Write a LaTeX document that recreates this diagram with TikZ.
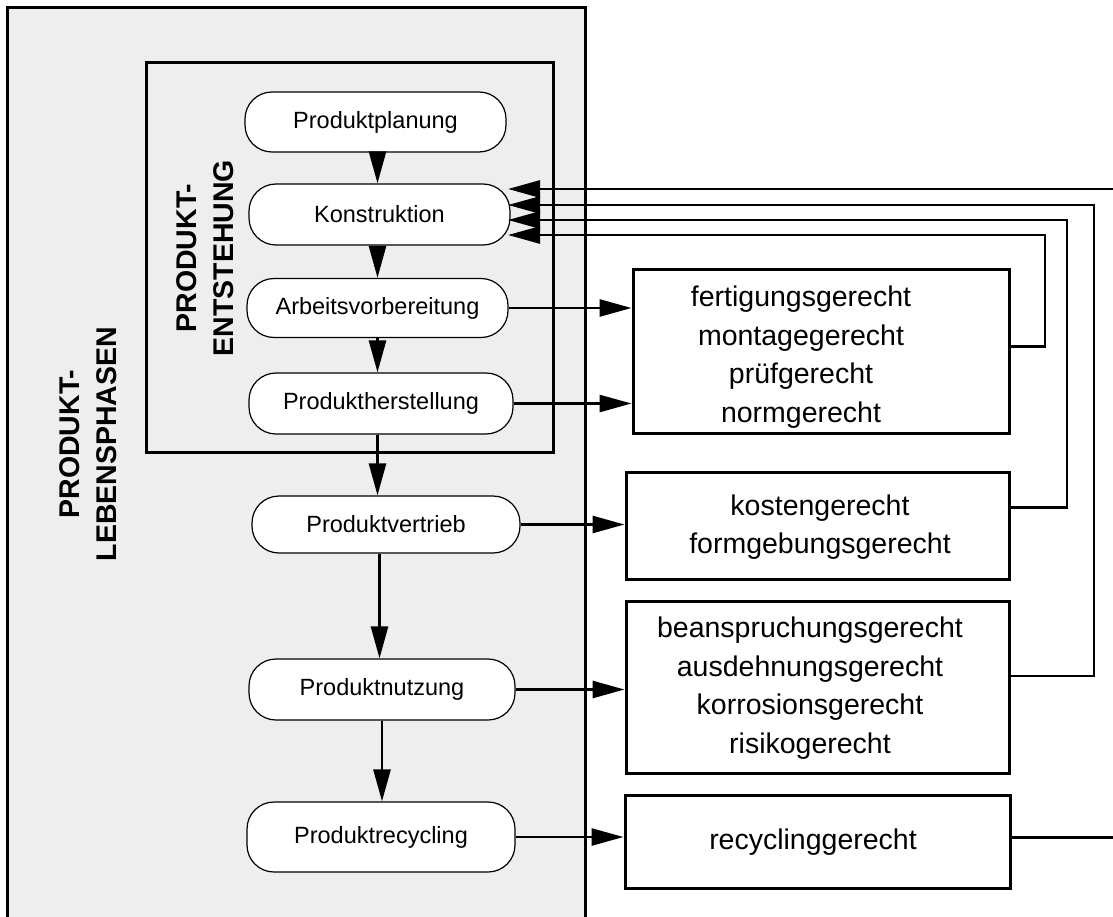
\documentclass[tikz,border=0pt]{standalone}
\usepackage{fontspec}
\setmainfont{Liberation Sans}
\usetikzlibrary{arrows.meta}
\definecolor{panel}{RGB}{238,238,238}
\begin{document}
\begin{tikzpicture}[x=1pt,y=-1pt,
  phase/.style={draw, line width=1.2pt, fill=white, rounded corners=27pt,
    inner sep=0pt, font=\fontsize{23.5}{28}\selectfont},
  goal/.style={draw, line width=3pt, fill=white, inner sep=0pt},
  goaltext/.style={align=center, inner sep=0pt, font=\fontsize{28.5}{38.5}\selectfont},
  areatext/.style={align=center, inner sep=0pt, rotate=90,
    font=\fontsize{28.5}{37}\selectfont\bfseries},
  frame/.style={line width=3pt},
  conn/.style={line width=2.7pt, -{Triangle[length=32pt,width=17pt]}}]

\useasboundingbox (0,0) rectangle (1113,917);
\clip (0,0) rectangle (1113,917);
\fill[white] (0,0) rectangle (1113,917);

% life-cycle panel and development frame
\draw[frame, fill=panel] (7,8) rectangle (585,960);
\draw[frame] (146,63) rectangle (553,452);

% phase labels
\node[areatext] (lblLeben) at (88,444) {PRODUKT-\\LEBENSPHASEN};
\node[areatext] (lblEnt) at (205,258) {PRODUKT-\\ENTSTEHUNG};

% phases
\node[phase, minimum width=261pt, minimum height=60pt] (plan)  at (375.5,122)   {Produktplanung};
\node[phase, minimum width=261pt, minimum height=61pt] (konst) at (379.5,214.5) {Konstruktion};
\node[phase, minimum width=261pt, minimum height=59pt] (arb)   at (377.5,308)   {Arbeitsvorbereitung};
\node[phase, minimum width=264pt, minimum height=61pt] (herst) at (381,403.5)   {Produktherstellung};
\node[phase, minimum width=268pt, minimum height=57pt] (vert)  at (386,524.5)   {Produktvertrieb};
\node[phase, minimum width=266pt, minimum height=61pt] (nutz)  at (382,689.5)   {Produktnutzung};
\node[phase, minimum width=268pt, minimum height=70pt] (recyc) at (381,837)     {Produktrecycling};

% design guidelines
\node[goal, minimum width=376pt, minimum height=163pt]   (g1) at (821,351.5)   {};
\node[goal, minimum width=383pt, minimum height=107.5pt] (g2) at (817.5,525.75) {};
\node[goal, minimum width=383pt, minimum height=172pt]   (g3) at (817.5,687)   {};
\node[goal, minimum width=385pt, minimum height=93pt]    (g4) at (817.5,841.5) {};

\node[goaltext] (g1t) at (801,357) {fertigungsgerecht\\montagegerecht\\prüfgerecht\\normgerecht};
\node[goaltext] (g2t) at (820,527) {kostengerecht\\formgebungsgerecht};
\node[goaltext] (g3t) at (810,688) {beanspruchungsgerecht\\ausdehnungsgerecht\\korrosionsgerecht\\risikogerecht};
\node[goaltext] (g4t) at (813,842) {recyclinggerecht};

% sequence of phases
\coordinate (col) at (377.5,0);
\draw[conn] (plan.south -| col)  -- (konst.north -| col);
\draw[conn] (konst.south -| col) -- (arb.north -| col);
\draw[conn] (arb.south -| col)   -- (herst.north -| col);
\draw[conn] (herst.south -| col) -- (vert.north -| col);
\coordinate (col2) at (379.5,0);
\draw[conn] (vert.south -| col2) -- (nutz.north -| col2);
\coordinate (col3) at (382,0);
\draw[conn] (nutz.south -| col3) -- (recyc.north -| col3);

% phases to guidelines
\draw[conn] (arb.east)   -- (arb.east -| g1.west);
\draw[conn] (herst.east) -- (herst.east -| g1.west);
\draw[conn] (vert.east)  -- (vert.east -| g2.west);
\draw[conn] (nutz.east)  -- (nutz.east -| g3.west);
\draw[conn] (recyc.east) -- (recyc.east -| g4.west);

% feedback into Konstruktion
\coordinate (k1) at (508,189);
\coordinate (k2) at (508,205);
\coordinate (k3) at (508,220);
\coordinate (k4) at (508,235);
\draw[conn] ([yshift=4pt]g4.east) -- ++(140,0) |- (k1);
\draw[conn] ([yshift=11pt]g3.east) -| (1094,205) -- (k2);
\draw[conn] ([yshift=18pt]g2.east) -| (1067,220) -- (k3);
\draw[conn] ([yshift=5pt]g1.east) -| (1045,235) -- (k4);
\end{tikzpicture}
\end{document}
